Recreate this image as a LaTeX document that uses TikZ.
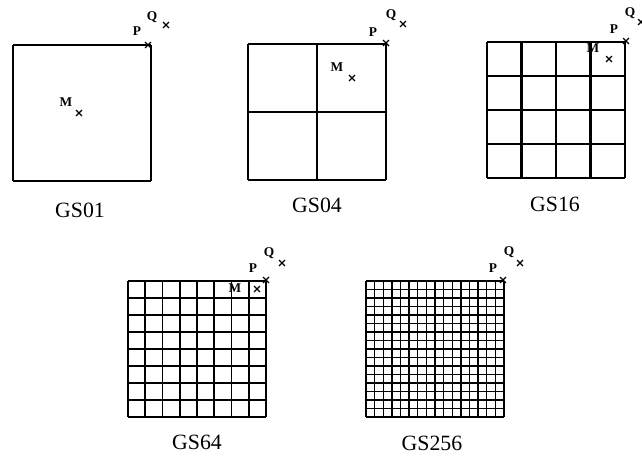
\documentclass[tikz,border=0pt]{standalone}
\usepackage{fontspec}
\setmainfont{Liberation Serif}
\usetikzlibrary{shapes.misc}

\begin{document}
\begin{tikzpicture}[
  x=0.025cm, y=-0.025cm,
  griglia/.style={draw=black, line width=1.4pt, line cap=square},
  didascalia/.style={font=\fontsize{15.5}{17}\selectfont, inner sep=0pt},
  lettera/.style={font=\bfseries\fontsize{9.5}{11}\selectfont, inner sep=0pt},
  crocetta/.style={cross out, draw=black, line width=0.9pt,
                   minimum size=3.2pt, inner sep=0pt}
]

\useasboundingbox (0,0) rectangle (642,455);

%--------------------------------------------------------------
% Griglie da 1 a 256 celle
%--------------------------------------------------------------
\foreach \nome/\x/\y/\n/\lw in {%
  GS01/13/45/1/1.8pt,
  GS04/248/44/2/1.5pt,
  GS16/487/42/4/1.5pt,
  GS64/128/281/8/1.3pt,
  GS256/366/281/16/1.0pt}{
  \foreach \i in {0,...,\n}{
    \draw[griglia, line width=\lw] ({\x+\i*138/\n},\y) -- ++(0,136);
    \draw[griglia, line width=\lw] (\x,{\y+\i*136/\n}) -- ++(138,0);
  }
}

%--------------------------------------------------------------
% Didascalie
%--------------------------------------------------------------
\foreach \nome/\x/\y in {GS01/80/210, GS04/317/205, GS16/555/204,
                         GS64/197/442, GS256/432/443}{
  \node[didascalia] (et\nome) at (\x,\y) {\nome};
}

%--------------------------------------------------------------
% Punti P e Q (angolo in alto a destra)
%--------------------------------------------------------------
\foreach \nome/\px/\py/\qx/\qy/\ax/\ay/\bx/\by in {%
  GS01/137/31/152/17/148/45/166/25,
  GS04/373/32/391/15/386/43/403/24,
  GS16/614/29/630/13/626/41/641/22,
  GS64/253/268/269/253/266/280/282/263,
  GS256/493/268/509/252/503/280/520/263}{
  \node[lettera] (P\nome) at (\px,\py) {P};
  \node[lettera] (Q\nome) at (\qx,\qy) {Q};
  \node[crocetta] (segnoP\nome) at (\ax,\ay) {};
  \node[crocetta] (segnoQ\nome) at (\bx,\by) {};
}

%--------------------------------------------------------------
% Punto M (manca in GS256)
%--------------------------------------------------------------
\foreach \nome/\mx/\my/\ax/\ay in {%
  GS01/66/102/79/113,
  GS04/337/67/352/78,
  GS16/593/48/609/59,
  GS64/235/288/257/289}{
  \node[lettera] (M\nome) at (\mx,\my) {M};
  \node[crocetta] (segnoM\nome) at (\ax,\ay) {};
}

\end{tikzpicture}
\end{document}
